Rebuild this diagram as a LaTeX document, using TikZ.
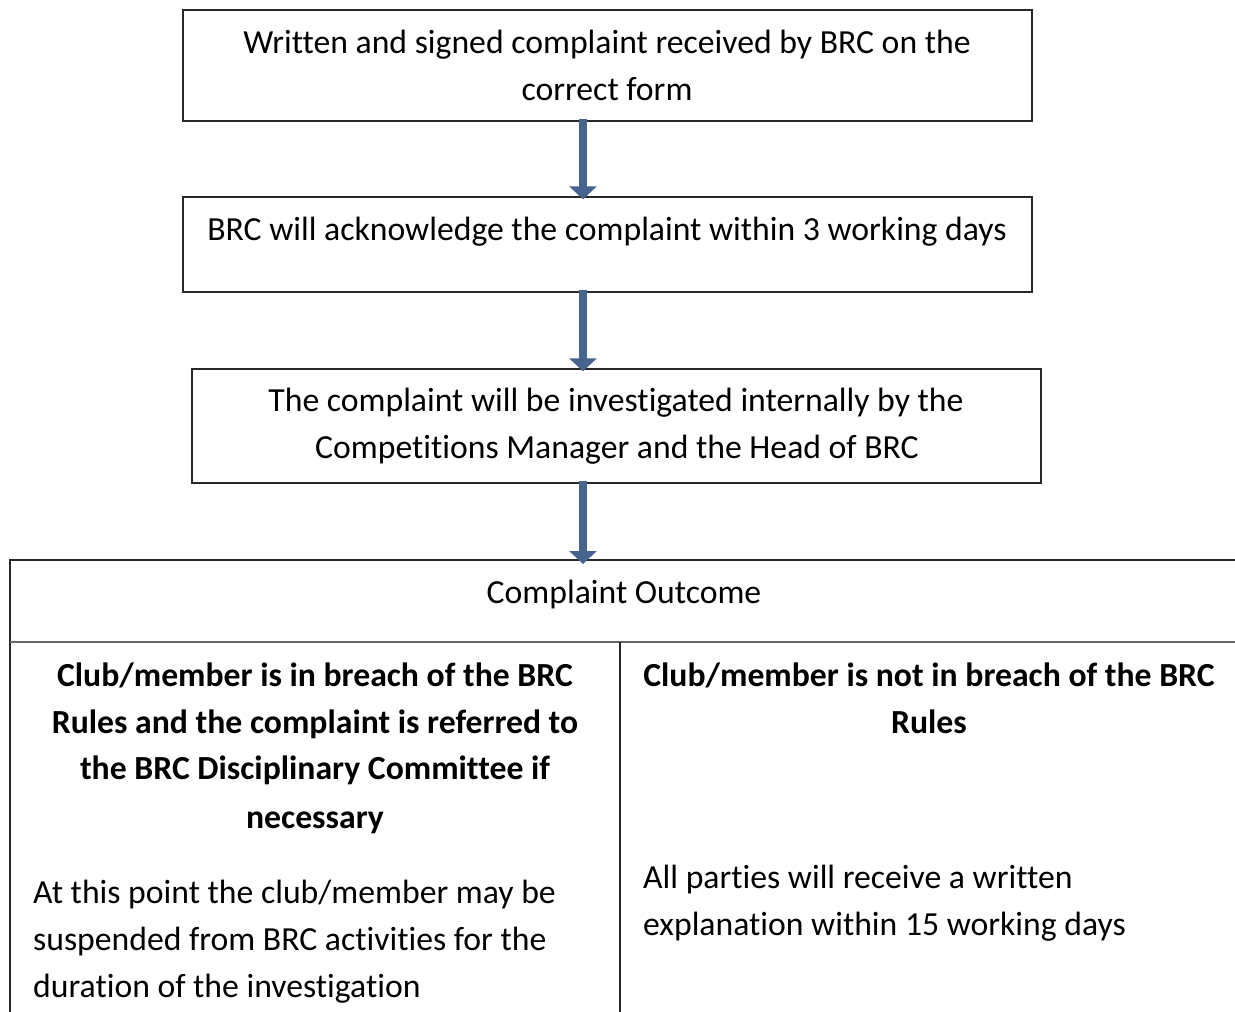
\documentclass[tikz,border=0pt]{standalone}
\usepackage{fontspec}
\setmainfont{Carlito}[Ligatures=NoCommon]
\usetikzlibrary{arrows.meta}
\definecolor{arrowblue}{RGB}{70,100,142}
\definecolor{boxline}{RGB}{40,40,40}
\tikzset{
  flowbox/.style={draw=boxline,line width=1.4pt,inner sep=0pt},
  txt/.style={anchor=base,inner sep=0pt,font=\fontsize{33.7}{40}\selectfont},
  btxt/.style={txt,font=\fontsize{33.7}{40}\selectfont\bfseries},
  ltxt/.style={txt,anchor=base west},
  arr/.style={arrowblue,line width=8pt,-{Triangle[width=27pt,length=13pt]}},
  tabline/.style={draw=boxline,line width=2pt},
}
\begin{document}
\begin{tikzpicture}[x=1pt,y=-1pt]
\useasboundingbox (0,0) rectangle (1235,1012);
% boxes
\node[flowbox,minimum width=849pt,minimum height=111pt] (b1) at (607.5,65.5) {};
\node[flowbox,minimum width=849pt,minimum height=95pt] (b2) at (607.5,244.5) {};
\node[flowbox,minimum width=849pt,minimum height=114pt] (b3) at (616.5,426) {};
% table
\coordinate (tl) at (10,560);
\coordinate (tr) at (1240,560);
\coordinate (ml) at (10,642);
\coordinate (mr) at (1240,642);
\coordinate (bl) at (10,1020);
\coordinate (vt) at (620,642);
\coordinate (vb) at (620,1020);
\draw[tabline] (bl) -- (tl) -- (tr);
\draw[draw=gray!80!black,line width=2.5pt] (ml) -- (mr);
\draw[tabline] (vt) -- (vb);
% arrows
\coordinate (ax) at (583,0);
\draw[arr] ([yshift=3pt]b1.south -| ax) -- ([yshift=-3pt]b2.north -| ax);
\draw[arr] ([yshift=3pt]b2.south -| ax) -- ([yshift=-3pt]b3.north -| ax);
\coordinate (tt) at (583,564);
\draw[arr] ([yshift=3pt]b3.south -| ax) -- (tt);
% texts
\node[txt] (t1a) at (607,53) {Written and signed complaint received by BRC on the};
\node[txt] (t1b) at (607,100) {correct form};
\node[txt] (t2) at (607,240) {BRC will acknowledge the complaint within 3 working days};
\node[txt] (t3a) at (616,411) {The complaint will be investigated internally by the};
\node[txt] (t3b) at (617,458) {Competitions Manager and the Head of BRC};
\node[txt] (th) at (624,603) {Complaint Outcome};
\node[btxt] (l1) at (315,686) {Club/member is in breach of the BRC};
\node[btxt] (l2) at (315,733) {Rules and the complaint is referred to};
\node[btxt] (l3) at (315,779) {the BRC Disciplinary Committee if};
\node[btxt] (l4) at (315,828) {necessary};
\node[btxt] (r1) at (929,686) {Club/member is not in breach of the BRC};
\node[btxt] (r2) at (929,733) {Rules};
\node[ltxt] (n1) at (33,903) {At this point the club/member may be};
\node[ltxt] (n2) at (33,950) {suspended from BRC activities for the};
\node[ltxt] (n3) at (33,997) {duration of the investigation};
\node[ltxt] (m1) at (643,888) {All parties will receive a written};
\node[ltxt] (m2) at (643,935) {explanation within 15 working days};
\end{tikzpicture}
\end{document}
